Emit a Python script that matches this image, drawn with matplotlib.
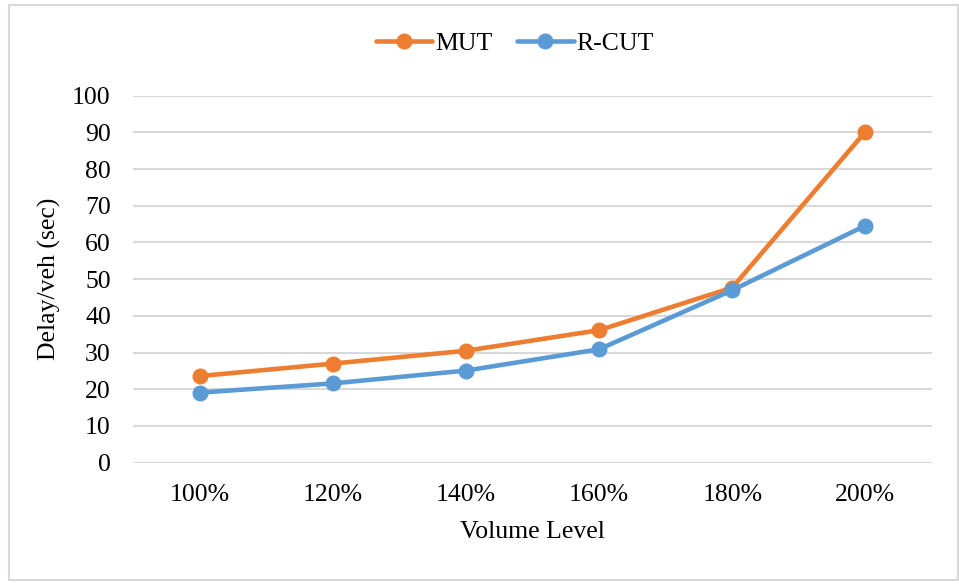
import matplotlib
matplotlib.use("Agg")
import matplotlib.pyplot as plt
from matplotlib.patches import Rectangle

categories = ["100%", "120%", "140%", "160%", "180%", "200%"]
mut = [23.6, 27.0, 30.5, 36.1, 47.7, 90.2]
rcut = [19.1, 21.6, 25.1, 30.9, 47.0, 64.6]
y_ticks = [0, 10, 20, 30, 40, 50, 60, 70, 80, 90, 100]

plt.rcParams["font.family"] = ["Liberation Serif", "DejaVu Serif"]

W, H = 959, 584
FS = 18.5
fig = plt.figure(figsize=(W / 100, H / 100), dpi=100)
fig.patch.set_facecolor("white")

# light frame around the whole chart
fig.patches.append(Rectangle((9 / W, 1 - 580 / H), (958 - 9) / W, (580 - 5) / H,
                             transform=fig.transFigure, fill=False,
                             edgecolor="#d9d9d9", linewidth=1.5))

ax = fig.add_axes([133 / W, 1 - 462.7 / H, 799 / W, 367 / H])
x = list(range(len(categories)))

ax.plot(x, mut, color="#ED7D31", linewidth=3.3, marker="o", markersize=10.5,
        label="MUT", solid_capstyle="round", zorder=3)
ax.plot(x, rcut, color="#5B9BD5", linewidth=3.3, marker="o", markersize=10.5,
        label="R-CUT", solid_capstyle="round", zorder=3)

ax.set_xlim(-0.5, len(categories) - 0.5)
ax.set_ylim(0, 100)
ax.set_yticks(y_ticks)
ax.set_xticks(x)
ax.set_xticklabels(categories)
ax.tick_params(axis="both", length=0, labelsize=FS, colors="black")
ax.tick_params(axis="y", pad=16)
ax.tick_params(axis="x", pad=15)
ax.yaxis.grid(True, color="#d9d9d9", linewidth=1.5)
ax.set_axisbelow(True)
for s in ax.spines.values():
    s.set_visible(False)

ax.set_xlabel("Volume Level", fontsize=FS, labelpad=11)
ax.set_ylabel("Delay/veh (sec)", fontsize=FS, labelpad=8)

fig.legend(loc="center", bbox_to_anchor=(515 / W, 1 - 44 / H), ncol=2,
           frameon=False, fontsize=FS, handlelength=2.2, handletextpad=0.12,
           columnspacing=0.95)

fig.savefig("out.png", dpi=100, facecolor="white")
